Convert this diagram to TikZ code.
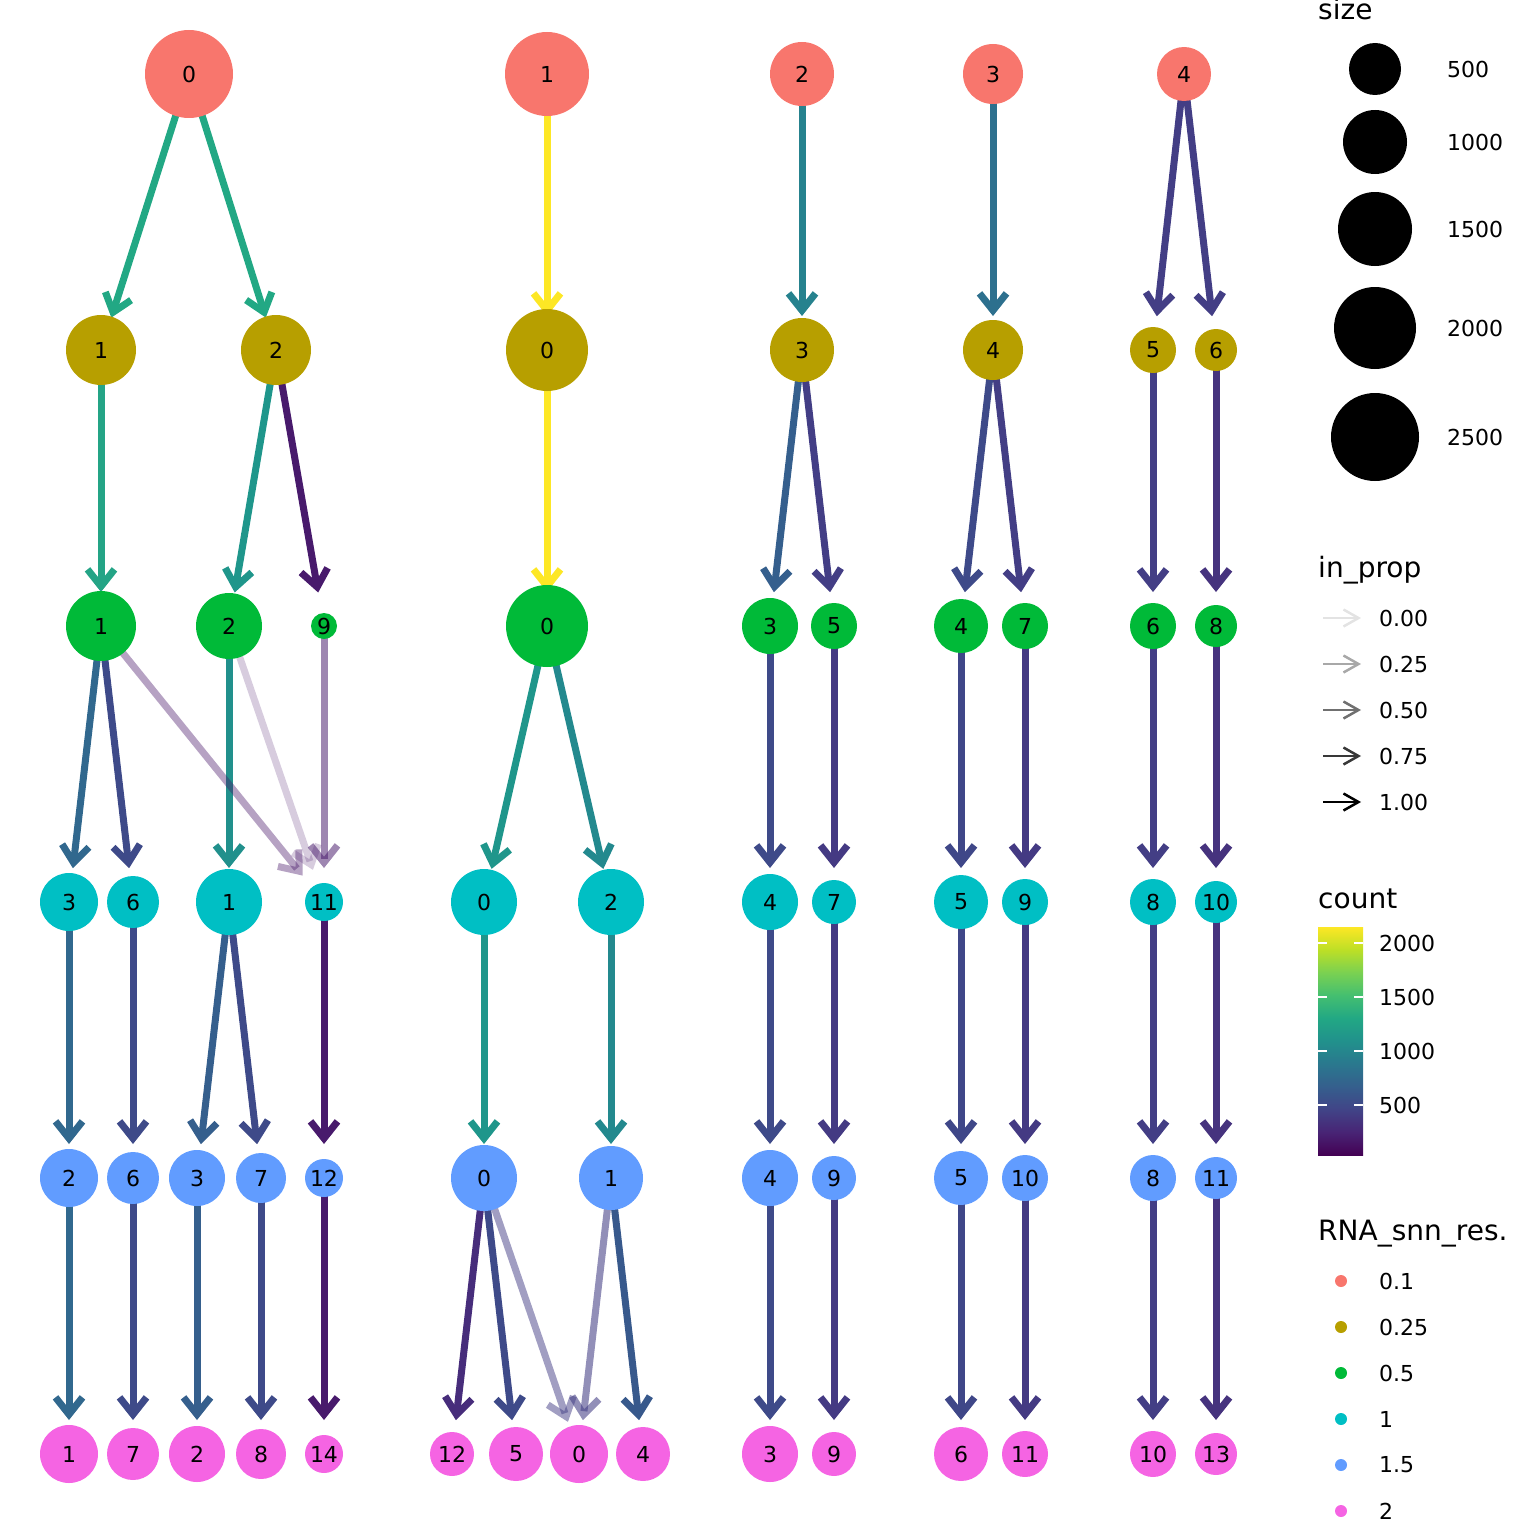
\documentclass[tikz,border=0pt]{standalone}
\usepackage{fontspec}
\setmainfont{DejaVu Sans}
\usetikzlibrary{arrows.meta}
\pgfdeclarelayer{bg}
\pgfsetlayers{bg,main}
% cluster colours
\definecolor{kA}{HTML}{F8766D}
\definecolor{kB}{HTML}{B79F00}
\definecolor{kC}{HTML}{00BA38}
\definecolor{kD}{HTML}{00BFC4}
\definecolor{kE}{HTML}{619CFF}
\definecolor{kF}{HTML}{F564E3}
% edge colours
\definecolor{eGreen}{HTML}{22A884}
\definecolor{eGreenB}{HTML}{24A486}
\definecolor{eYellow}{HTML}{FDE725}
\definecolor{eTeal}{HTML}{26828E}
\definecolor{eTealB}{HTML}{1F968B}
\definecolor{eTealC}{HTML}{21908C}
\definecolor{eTealD}{HTML}{23898E}
\definecolor{eBlueA}{HTML}{2D708E}
\definecolor{eBlueB}{HTML}{31688E}
\definecolor{eBlueC}{HTML}{355F8D}
\definecolor{eBlueD}{HTML}{38598C}
\definecolor{eBlueE}{HTML}{3E4A89}
\definecolor{eBlueF}{HTML}{3F4788}
\definecolor{ePurA}{HTML}{433E85}
\definecolor{ePurB}{HTML}{443A83}
\definecolor{ePurC}{HTML}{46337E}
\definecolor{ePurD}{HTML}{472D7B}
\definecolor{ePurE}{HTML}{481A6C}
\definecolor{ePurF}{HTML}{481769}
% viridis
\definecolor{v0}{HTML}{440154}
\definecolor{v1}{HTML}{482475}
\definecolor{v2}{HTML}{414487}
\definecolor{v3}{HTML}{355F8D}
\definecolor{v4}{HTML}{2A788E}
\definecolor{v5}{HTML}{21918C}
\definecolor{v6}{HTML}{22A884}
\definecolor{v7}{HTML}{44BF70}
\definecolor{v8}{HTML}{7AD151}
\definecolor{v9}{HTML}{BDDF26}
\definecolor{v10}{HTML}{FDE725}
\pgfdeclareverticalshading{viridis}{100bp}{color(0bp)=(v0); color(25bp)=(v0); color(30bp)=(v1); color(35bp)=(v2); color(40bp)=(v3); color(45bp)=(v4); color(50bp)=(v5); color(55bp)=(v6); color(60bp)=(v7); color(65bp)=(v8); color(70bp)=(v9); color(75bp)=(v10); color(100bp)=(v10)}
\tikzset{
  clu/.style={circle, inner sep=0pt, draw=none, text=black, font=\fontsize{22}{26}\selectfont},
  edge/.style={line width=7pt, -{Straight Barb[length=17pt,width=27pt]}, shorten >=34pt},
  legtitle/.style={anchor=base west, inner sep=0pt, font=\fontsize{28}{32}\selectfont},
  leglab/.style={anchor=west, inner sep=0pt, font=\fontsize{22}{26}\selectfont},
  legarrow/.style={line width=2.5pt, -{Straight Barb[length=15pt,width=17pt]}},
  legdot/.style={circle, inner sep=0pt, minimum size=12pt}
}
\newcommand\clu[5]{\node[clu, fill=#1, minimum size=#2pt] (#3) at (#4) {#5};}
\newcommand\edg[4][1]{\draw[edge, draw=#2, opacity=#1] (#3.center) -- (#4.center);}
\begin{document}
\begin{tikzpicture}[x=1pt,y=-1pt]
\useasboundingbox (0,0) rectangle (1536,1536);
% level 0.1
\clu{kA}{88}{r1n0}{189,74}{0}
\clu{kA}{84}{r1n1}{547,74}{1}
\clu{kA}{64}{r1n2}{802,74}{2}
\clu{kA}{60}{r1n3}{993,74}{3}
\clu{kA}{54}{r1n4}{1184,74}{4}
% level 0.25
\clu{kB}{70}{r2n1}{101,350}{1}
\clu{kB}{70}{r2n2}{276,350}{2}
\clu{kB}{82}{r2n0}{547,350}{0}
\clu{kB}{64}{r2n3}{802,350}{3}
\clu{kB}{60}{r2n4}{993,350}{4}
\clu{kB}{46}{r2n5}{1153,350}{5}
\clu{kB}{42}{r2n6}{1216,350}{6}
% level 0.5
\clu{kC}{70}{r3n1}{101,626}{1}
\clu{kC}{66}{r3n2}{229,626}{2}
\clu{kC}{26}{r3n9}{324,626}{9}
\clu{kC}{82}{r3n0}{547,626}{0}
\clu{kC}{56}{r3n3}{770,626}{3}
\clu{kC}{46}{r3n5}{834,626}{5}
\clu{kC}{54}{r3n4}{961,626}{4}
\clu{kC}{46}{r3n7}{1025,626}{7}
\clu{kC}{46}{r3n6}{1153,626}{6}
\clu{kC}{42}{r3n8}{1216,626}{8}
% level 1
\clu{kD}{58}{r4n3}{69,902}{3}
\clu{kD}{52}{r4n6}{133,902}{6}
\clu{kD}{66}{r4n1}{229,902}{1}
\clu{kD}{38}{r4n11}{324,902}{11}
\clu{kD}{66}{r4n0}{484,902}{0}
\clu{kD}{66}{r4n2}{611,902}{2}
\clu{kD}{56}{r4n4}{770,902}{4}
\clu{kD}{44}{r4n7}{834,902}{7}
\clu{kD}{54}{r4n5}{961,902}{5}
\clu{kD}{46}{r4n9}{1025,902}{9}
\clu{kD}{46}{r4n8}{1153,902}{8}
\clu{kD}{42}{r4n10}{1216,902}{10}
% level 1.5
\clu{kE}{58}{r5n2}{69,1178}{2}
\clu{kE}{52}{r5n6}{133,1178}{6}
\clu{kE}{56}{r5n3}{197,1178}{3}
\clu{kE}{50}{r5n7}{261,1178}{7}
\clu{kE}{38}{r5n12}{324,1178}{12}
\clu{kE}{66}{r5n0}{484,1178}{0}
\clu{kE}{64}{r5n1}{611,1178}{1}
\clu{kE}{56}{r5n4}{770,1178}{4}
\clu{kE}{44}{r5n9}{834,1178}{9}
\clu{kE}{54}{r5n5}{961,1178}{5}
\clu{kE}{46}{r5n10}{1025,1178}{10}
\clu{kE}{46}{r5n8}{1153,1178}{8}
\clu{kE}{42}{r5n11}{1216,1178}{11}
% level 2
\clu{kF}{58}{r6n1}{69,1454}{1}
\clu{kF}{52}{r6n7}{133,1454}{7}
\clu{kF}{56}{r6n2}{197,1454}{2}
\clu{kF}{50}{r6n8}{261,1454}{8}
\clu{kF}{38}{r6n14}{324,1454}{14}
\clu{kF}{44}{r6n12}{452,1454}{12}
\clu{kF}{54}{r6n5}{516,1454}{5}
\clu{kF}{58}{r6n0}{579,1454}{0}
\clu{kF}{54}{r6n4}{643,1454}{4}
\clu{kF}{56}{r6n3}{770,1454}{3}
\clu{kF}{44}{r6n9}{834,1454}{9}
\clu{kF}{54}{r6n6}{961,1454}{6}
\clu{kF}{46}{r6n11}{1025,1454}{11}
\clu{kF}{46}{r6n10}{1153,1454}{10}
\clu{kF}{42}{r6n13}{1216,1454}{13}
\begin{pgfonlayer}{bg}
% 0.1 -> 0.25
\edg{eGreen}{r1n0}{r2n1}
\edg{eGreen}{r1n0}{r2n2}
\edg{eYellow}{r1n1}{r2n0}
\edg{eTeal}{r1n2}{r2n3}
\edg{eBlueA}{r1n3}{r2n4}
\edg{ePurA}{r1n4}{r2n5}
\edg{ePurA}{r1n4}{r2n6}
% 0.25 -> 0.5
\edg{eGreenB}{r2n1}{r3n1}
\edg{eTealB}{r2n2}{r3n2}
\edg{ePurE}{r2n2}{r3n9}
\edg{eYellow}{r2n0}{r3n0}
\edg{eBlueC}{r2n3}{r3n3}
\edg{ePurA}{r2n3}{r3n5}
\edg{eBlueE}{r2n4}{r3n4}
\edg{ePurA}{r2n4}{r3n7}
\edg{ePurA}{r2n5}{r3n6}
\edg{ePurC}{r2n6}{r3n8}
% 0.5 -> 1
\edg{eBlueB}{r3n1}{r4n3}
\edg{eBlueE}{r3n1}{r4n6}
\edg{eTealC}{r3n2}{r4n1}
\edg{eTealB}{r3n0}{r4n0}
\edg{eTealD}{r3n0}{r4n2}
\edg{eBlueE}{r3n3}{r4n4}
\edg{ePurB}{r3n5}{r4n7}
\edg{eBlueF}{r3n4}{r4n5}
\edg{ePurB}{r3n7}{r4n9}
\edg{ePurA}{r3n6}{r4n8}
\edg{ePurC}{r3n8}{r4n10}
\edg[0.4]{ePurF}{r3n1}{r4n11}
\edg[0.22]{ePurF}{r3n2}{r4n11}
\edg[0.53]{ePurE}{r3n9}{r4n11}
% 1 -> 1.5
\edg{eBlueB}{r4n3}{r5n2}
\edg{eBlueE}{r4n6}{r5n6}
\edg{eBlueC}{r4n1}{r5n3}
\edg{eBlueE}{r4n1}{r5n7}
\edg{ePurE}{r4n11}{r5n12}
\edg{eTealB}{r4n0}{r5n0}
\edg{eTealD}{r4n2}{r5n1}
\edg{eBlueE}{r4n4}{r5n4}
\edg{ePurB}{r4n7}{r5n9}
\edg{eBlueF}{r4n5}{r5n5}
\edg{ePurB}{r4n9}{r5n10}
\edg{ePurA}{r4n8}{r5n8}
\edg{ePurC}{r4n10}{r5n11}
% 1.5 -> 2
\edg{eBlueB}{r5n2}{r6n1}
\edg{eBlueE}{r5n6}{r6n7}
\edg{eBlueC}{r5n3}{r6n2}
\edg{eBlueE}{r5n7}{r6n8}
\edg{ePurE}{r5n12}{r6n14}
\edg{ePurD}{r5n0}{r6n12}
\edg{eBlueE}{r5n0}{r6n5}
\edg{eBlueD}{r5n1}{r6n4}
\edg{eBlueE}{r5n4}{r6n3}
\edg{ePurB}{r5n9}{r6n9}
\edg{eBlueF}{r5n5}{r6n6}
\edg{ePurB}{r5n10}{r6n11}
\edg{ePurA}{r5n8}{r6n10}
\edg{ePurC}{r5n11}{r6n13}
\edg[0.5]{ePurA}{r5n0}{r6n0}
\edg[0.58]{ePurA}{r5n1}{r6n0}
\end{pgfonlayer}
% ---- legend: size
\node[legtitle] (tsize) at (1318,20) {size};
\node[circle, fill=black, inner sep=0pt, minimum size=52pt] (s1) at (1375,69) {};
\node[circle, fill=black, inner sep=0pt, minimum size=64pt] (s2) at (1375,142) {};
\node[circle, fill=black, inner sep=0pt, minimum size=74pt] (s3) at (1375,229) {};
\node[circle, fill=black, inner sep=0pt, minimum size=82pt] (s4) at (1375,328) {};
\node[circle, fill=black, inner sep=0pt, minimum size=88pt] (s5) at (1375,437) {};
\node[leglab] (ls1) at (1447,69) {500};
\node[leglab] (ls2) at (1447,142) {1000};
\node[leglab] (ls3) at (1447,229) {1500};
\node[leglab] (ls4) at (1447,328) {2000};
\node[leglab] (ls5) at (1447,437) {2500};
% ---- legend: in_prop
\node[legtitle] (tprop) at (1318,577) {in\_prop};
\draw[legarrow, draw=black!11] (1323,618) -- (1361,618);
\draw[legarrow, draw=black!34] (1323,664) -- (1361,664);
\draw[legarrow, draw=black!56] (1323,710) -- (1361,710);
\draw[legarrow, draw=black!78] (1323,756) -- (1361,756);
\draw[legarrow, draw=black] (1323,802) -- (1361,802);
\node[leglab] (lp1) at (1379,618) {0.00};
\node[leglab] (lp2) at (1379,664) {0.25};
\node[leglab] (lp3) at (1379,710) {0.50};
\node[leglab] (lp4) at (1379,756) {0.75};
\node[leglab] (lp5) at (1379,802) {1.00};
% ---- legend: count
\node[legtitle] (tcount) at (1318,908) {count};
\shade[shading=viridis] (1318,927) rectangle (1363,1155);
\foreach \yy in {943,997,1051,1105} {
  \draw[white, line width=1.3pt] (1318,\yy) -- (1327,\yy);
  \draw[white, line width=1.3pt] (1354,\yy) -- (1363,\yy);
}
\node[leglab] (lc1) at (1379,943) {2000};
\node[leglab] (lc2) at (1379,997) {1500};
\node[leglab] (lc3) at (1379,1051) {1000};
\node[leglab] (lc4) at (1379,1105) {500};
% ---- legend: resolution
\node[legtitle] (tres) at (1318,1240) {RNA\_snn\_res.};
\node[legdot, fill=kA] (d1) at (1341,1281) {};
\node[legdot, fill=kB] (d2) at (1341,1327) {};
\node[legdot, fill=kC] (d3) at (1341,1373) {};
\node[legdot, fill=kD] (d4) at (1341,1419) {};
\node[legdot, fill=kE] (d5) at (1341,1465) {};
\node[legdot, fill=kF] (d6) at (1341,1511) {};
\node[leglab] (lr1) at (1379,1281) {0.1};
\node[leglab] (lr2) at (1379,1327) {0.25};
\node[leglab] (lr3) at (1379,1373) {0.5};
\node[leglab] (lr4) at (1379,1419) {1};
\node[leglab] (lr5) at (1379,1465) {1.5};
\node[leglab] (lr6) at (1379,1511) {2};
\end{tikzpicture}
\end{document}
